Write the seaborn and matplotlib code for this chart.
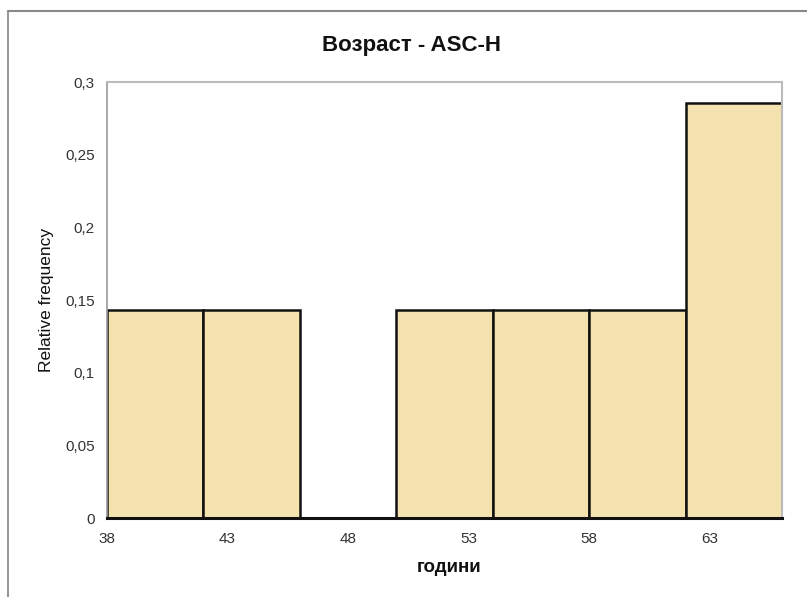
import matplotlib
matplotlib.use("Agg")
import matplotlib.pyplot as plt
from matplotlib.lines import Line2D
from matplotlib.ticker import FuncFormatter
import seaborn as sns
import pandas as pd

# Age bins (left edges, width 4 years) and relative frequencies
bin_left = [38, 42, 46, 50, 54, 58, 62]
bin_width = 4
rel_freq = [1 / 7, 1 / 7, 0.0, 1 / 7, 1 / 7, 1 / 7, 2 / 7]
x_ticks = [38, 43, 48, 53, 58, 63]
y_ticks = [0, 0.05, 0.1, 0.15, 0.2, 0.25, 0.3]

title = "Возраст - ASC-H"
x_label = "години"
y_label = "Relative frequency"

df = pd.DataFrame({"age": bin_left, "freq": rel_freq})
edges = bin_left + [bin_left[-1] + bin_width]

sns.set_style("white")
plt.rcParams["font.family"] = ["Liberation Sans", "DejaVu Sans"]

fig = plt.figure(figsize=(8.07, 5.97), dpi=100)
ax = fig.add_axes([107 / 807, 79 / 597, 675 / 807, 436 / 597])

sns.histplot(data=df, x="age", weights="freq", bins=edges, stat="count",
             color="#F5E3AF", edgecolor="#111111", linewidth=1.8, alpha=1.0, ax=ax)

ax.set_xlim(edges[0], edges[-1])
ax.set_ylim(0, 0.3)
ax.set_xticks(x_ticks)
ax.set_yticks(y_ticks)
ax.yaxis.set_major_formatter(FuncFormatter(lambda v, p: f"{v:g}".replace(".", ",")))

ax.tick_params(axis="both", direction="out", length=5, width=1, color="#999999",
               labelcolor="#333333", labelsize=11, pad=4)
ax.tick_params(axis="x", pad=5)

for side in ("top", "right"):
    ax.spines[side].set_color("#BBBBBB")
    ax.spines[side].set_linewidth(1.5)
ax.spines["left"].set_color("#999999")
ax.spines["left"].set_linewidth(1.2)
ax.spines["bottom"].set_color("#111111")
ax.spines["bottom"].set_linewidth(2.2)

fig.text(411 / 807, 1 - 45 / 597, title, fontsize=16, fontweight="bold",
         ha="center", va="center", color="#111111")
ax.set_xlabel(x_label, fontsize=13.5, fontweight="bold", color="#111111")
ax.xaxis.set_label_coords((449 - 107) / 675, -(567 - 518) / 436)
ax.xaxis.label.set_va("center")
ax.set_ylabel(y_label, fontsize=12.5, labelpad=8, color="#111111")

# Outer chart frame (left and top edges)
fig.add_artist(Line2D([8 / 807, 8 / 807], [0, 1 - 11 / 597], color="#999999", lw=1.5,
                      transform=fig.transFigure))
fig.add_artist(Line2D([8 / 807, 1], [1 - 11 / 597, 1 - 11 / 597], color="#888888", lw=1.5,
                      transform=fig.transFigure))

fig.savefig("out.png", dpi=100)
